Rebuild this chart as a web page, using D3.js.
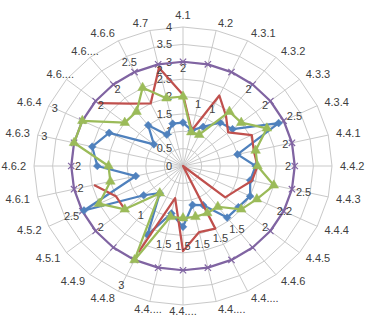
<!DOCTYPE html>
<html><head><meta charset="utf-8">
<script src="https://cdn.jsdelivr.net/npm/d3@7"></script>
<style>html,body{margin:0;padding:0;background:#fff}svg{display:block}</style>
</head><body>
<svg id="chart" width="373" height="317"></svg>
<script>
const categories = ["4.1","4.2","4.3.1","4.3.2","4.3.3","4.3.4","4.4.1","4.4.2","4.4.3","4.4.4","4.4.5","4.4.6","4.4....","4.4....","4.4....","4.4....","4.4.8","4.4.9","4.5.1","4.5.2","4.6.1","4.6.2","4.6.3","4.6.4","4.6....","4.6....","4.6.6","4.7"];
const tickValues = [0,0.5,1,1.5,2,2.5,3,3.5,4];
const seriesBlue   = [1.25,1.05,1.25,1.6,1.7,2.85,1.5,1.95,1.85,2.0,1.9,1.9,1.25,1.15,1.75,1.4,2.2,1.0,1.35,2.95,1.3,2.3,2.5,2.2,1.0,1.5,1.0,1.25];
const seriesRed    = [2.05,1.05,2.25,1.85,1.55,2.05,1.95,2.0,1.9,1.6,1.45,0,2.0,1.95,2.45,0.95,2.75,null,2.0,2.0,2.45,null,null,null,2.9,2.3,2.0,2.9];
const seriesGreen  = [2,1,1,2,2,2.5,2,2,2.5,2.2,2,1.5,1.5,1.5,1.5,1.5,3,1,2,2.5,2,2,3,3,2,2,2.5,2];
const seriesPurple = [3,3,3,3,3,3,3,3,3,3,3,3,3,3,3,3,3,3,3,3,3,3,3,3,3,3,3,3];

const svg = d3.select("#chart");
const cx = 183, cy = 166;
const N = categories.length;
const rx = d3.scaleLinear().domain([0,4]).range([0,149]);
const ry = d3.scaleLinear().domain([0,4]).range([0,139]);
const angle = d3.scaleLinear().domain([0,N]).range([0,2*Math.PI]);
function pt(i,v){const a=angle(i);return [cx+Math.sin(a)*rx(v), cy-Math.cos(a)*ry(v)];}

const gridColor = "#c9c9c9";
const textColor = "#404040";
const font = "'Liberation Sans', Arial, sans-serif";

// grid rings
const ringLine = d3.line().curve(d3.curveLinearClosed);
const g = svg.append("g");
tickValues.filter(t=>t>0).forEach(t=>{
  g.append("path").attr("d", ringLine(d3.range(N).map(i=>pt(i,t))))
   .attr("fill","none").attr("stroke",gridColor).attr("stroke-width",1);
});
// spokes
d3.range(N).forEach(i=>{
  const p = pt(i,4);
  g.append("line").attr("x1",cx).attr("y1",cy).attr("x2",p[0]).attr("y2",p[1])
   .attr("stroke",gridColor).attr("stroke-width",1);
});

// category labels
d3.range(N).forEach(i=>{
  const a = angle(i), s = Math.sin(a), c = Math.cos(a);
  let x = cx + s*(rx(4)+8), y = cy - c*(ry(4)+8);
  let anchor;
  if (Math.abs(s) < 0.05) { anchor = "middle"; y += (c>0 ? -4 : -2); }
  else anchor = s > 0 ? "start" : "end";
  if (s < -0.05 && categories[i].endsWith("....")) anchor = "middle";
  svg.append("text").attr("x",x).attr("y",y).attr("dy","0.35em")
    .attr("text-anchor",anchor).attr("font-family",font).attr("font-size",11)
    .attr("fill",textColor).text(categories[i]);
});

// tick labels on first axis
tickValues.forEach(t=>{
  svg.append("text").attr("x",cx-11).attr("y",cy-ry(t)).attr("dy","0.35em")
    .attr("text-anchor","end").attr("font-family",font).attr("font-size",11)
    .attr("fill",textColor).text(t);
});

const lineGen = d3.line().defined(d=>d.v!=null)
  .x(d=>pt(d.i,d.v)[0]).y(d=>pt(d.i,d.v)[1]);

function drawSeries(values,color,marker){
  const data = values.map((v,i)=>({i,v}));
  data.push({i:N, v:values[0]});
  svg.append("path").attr("d",lineGen(data)).attr("fill","none")
    .attr("stroke",color).attr("stroke-width",2.25).attr("stroke-linejoin","round");
  if (!marker) return;
  values.forEach((v,i)=>{
    if (v==null) return;
    const p = pt(i,v);
    const m = svg.append("path").attr("transform",`translate(${p[0]},${p[1]})${marker.rot?" rotate(45)":""}`)
      .attr("d", d3.symbol().type(marker.type).size(marker.size)());
    if (marker.stroke) m.attr("fill","none").attr("stroke",color).attr("stroke-width",1.2);
    else m.attr("fill",color).attr("stroke",color).attr("stroke-width",0.5);
  });
}

drawSeries(seriesPurple,"#8064A2",{type:d3.symbolX,size:28,stroke:true});
drawSeries(seriesBlue,"#4F81BD",{type:d3.symbolSquare,size:30,rot:true});
drawSeries(seriesRed,"#C0504D",null);
drawSeries(seriesGreen,"#9BBB59",{type:d3.symbolTriangle,size:40});

// data labels for green series
seriesGreen.forEach((v,i)=>{
  const p = pt(i, v+0.82);
  svg.append("text").attr("x",p[0]).attr("y",p[1]).attr("dy","0.35em")
    .attr("text-anchor","middle").attr("font-family",font).attr("font-size",11)
    .attr("fill",textColor).text(v);
});
</script>
</body></html>
